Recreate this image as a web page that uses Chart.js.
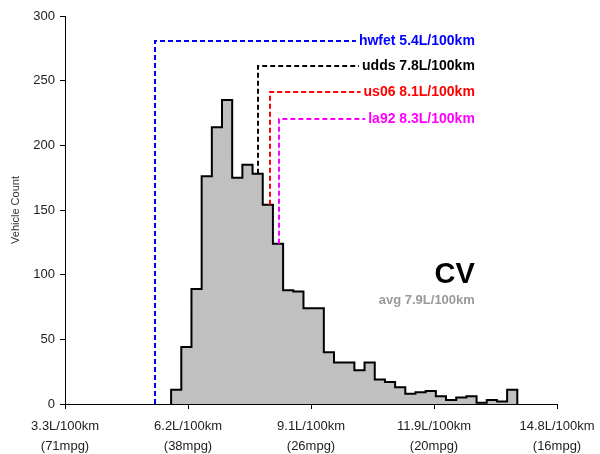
<!DOCTYPE html>
<html>
<head>
<meta charset="utf-8">
<script src="https://cdn.jsdelivr.net/npm/chart.js@4.4.1/dist/chart.umd.min.js"></script>
<style>
  html, body { margin: 0; padding: 0; background: #fff; }
  #wrap { width: 600px; height: 454px; }
</style>
</head>
<body>
<div id="wrap"><canvas id="histChart"></canvas></div>
<script>
// Histogram bins (L/100km) and vehicle counts
const binStart = 5.78;
const binWidth = 0.238;
const vehicleCounts = [11, 44, 89, 176, 214, 235, 175, 185, 178, 154, 124, 88, 87, 74, 74, 40, 32,
    32, 26, 32, 19, 17, 13, 8, 9, 10, 6, 3, 5, 6, 1, 3, 2, 11];

// x axis ticks
const tickValues = [3.3, 6.175, 9.05, 11.925, 14.8];
const tickLabels = [
    ['3.3L/100km', '(71mpg)'],
    ['6.2L/100km', '(38mpg)'],
    ['9.1L/100km', '(26mpg)'],
    ['11.9L/100km', '(20mpg)'],
    ['14.8L/100km', '(16mpg)']
];

// drive cycle results
const cycleNames = ['hwfet', 'udds', 'us06', 'la92'];
const cycleValues = [5.4, 7.8, 8.1, 8.3];

const vehicleClass = 'CV';
const averageValue = 7.9;

// styling / placement of the annotations
const FONT = '"Liberation Sans", Arial, Helvetica, sans-serif';
const cycleColors = ['#0000ff', '#000000', '#ff0000', '#ff00ff'];
const leaderTops = [281, 261, 241.5, 220.5];
const labelRightValue = 12.88;
const classLabelY = 100;
const avgLabelY = 80;

function countAt(v) {
    const i = Math.floor((v - binStart) / binWidth);
    return (i >= 0 && i < vehicleCounts.length) ? vehicleCounts[i] : 0;
}

// step outline points: left edge of each bin, closed down to zero at both ends
const histPoints = [{ x: binStart, y: 0 }];
vehicleCounts.forEach((c, i) => histPoints.push({ x: binStart + i * binWidth, y: c }));
const binEnd = binStart + vehicleCounts.length * binWidth;
histPoints.push({ x: binEnd, y: vehicleCounts[vehicleCounts.length - 1] });
histPoints.push({ x: binEnd, y: 0 });

const annotations = {
    id: 'annotations',
    afterDatasetsDraw(chart) {
        const { ctx, scales: { x, y } } = chart;
        const right = x.getPixelForValue(labelRightValue);
        ctx.save();
        ctx.font = 'bold 14px ' + FONT;
        ctx.textAlign = 'right';
        ctx.textBaseline = 'middle';
        cycleNames.forEach((name, i) => {
            const text = `${name} ${cycleValues[i].toFixed(1)}L/100km`;
            const w = ctx.measureText(text).width;
            const px = Math.round(x.getPixelForValue(cycleValues[i]));
            const yTop = Math.round(y.getPixelForValue(leaderTops[i]));
            const yBot = y.getPixelForValue(countAt(cycleValues[i]));
            ctx.strokeStyle = cycleColors[i];
            ctx.lineWidth = 2;
            ctx.setLineDash([5, 3]);
            ctx.beginPath();
            ctx.moveTo(px, yBot);
            ctx.lineTo(px, yTop);
            ctx.lineTo(right - w - 3, yTop);
            ctx.stroke();
            ctx.fillStyle = cycleColors[i];
            ctx.fillText(text, right, yTop);
        });
        ctx.setLineDash([]);

        ctx.fillStyle = '#000';
        ctx.font = 'bold 29px ' + FONT;
        ctx.fillText(vehicleClass, right, y.getPixelForValue(classLabelY));
        ctx.fillStyle = '#999';
        ctx.font = 'bold 13px ' + FONT;
        ctx.fillText(`avg ${averageValue.toFixed(1)}L/100km`, right, y.getPixelForValue(avgLabelY));
        ctx.restore();
    }
};

new Chart(document.getElementById('histChart'), {
    type: 'line',
    data: {
        datasets: [{
            data: histPoints,
            stepped: true,
            fill: 'origin',
            backgroundColor: '#c0c0c0',
            borderColor: '#000',
            borderWidth: 2,
            borderJoinStyle: 'miter',
            pointRadius: 0
        }]
    },
    options: {
        responsive: true,
        maintainAspectRatio: false,
        animation: false,
        layout: { padding: { top: 16, right: 43, bottom: 0, left: 0 } },
        plugins: { legend: { display: false }, tooltip: { enabled: false } },
        scales: {
            x: {
                type: 'linear',
                min: 3.3,
                max: 14.8,
                afterBuildTicks: (axis) => { axis.ticks = tickValues.map(v => ({ value: v })); },
                afterFit: (axis) => {
                    axis.height = 50;
                    axis.paddingLeft = 0;
                    axis.paddingRight = 0;
                },
                ticks: {
                    autoSkip: false,
                    maxRotation: 0,
                    padding: 8,
                    color: '#222',
                    font: { family: FONT, size: 13, lineHeight: 1.5 },
                    callback: (v, i) => tickLabels[i]
                },
                grid: { display: true, drawOnChartArea: false, drawTicks: true, tickLength: 5, color: '#000' },
                border: { display: true, color: '#000', width: 1 }
            },
            y: {
                min: 0,
                max: 300,
                afterFit: (axis) => { axis.width = 65; },
                ticks: {
                    stepSize: 50,
                    padding: 5,
                    color: '#222',
                    font: { family: FONT, size: 13 }
                },
                grid: { display: true, drawOnChartArea: false, drawTicks: true, tickLength: 5, color: '#000' },
                border: { display: true, color: '#000', width: 1 },
                title: {
                    display: true,
                    text: 'Vehicle Count',
                    color: '#333',
                    padding: { top: 9, bottom: 0 },
                    font: { family: FONT, size: 11 }
                }
            }
        }
    },
    plugins: [annotations]
});
</script>
</body>
</html>
